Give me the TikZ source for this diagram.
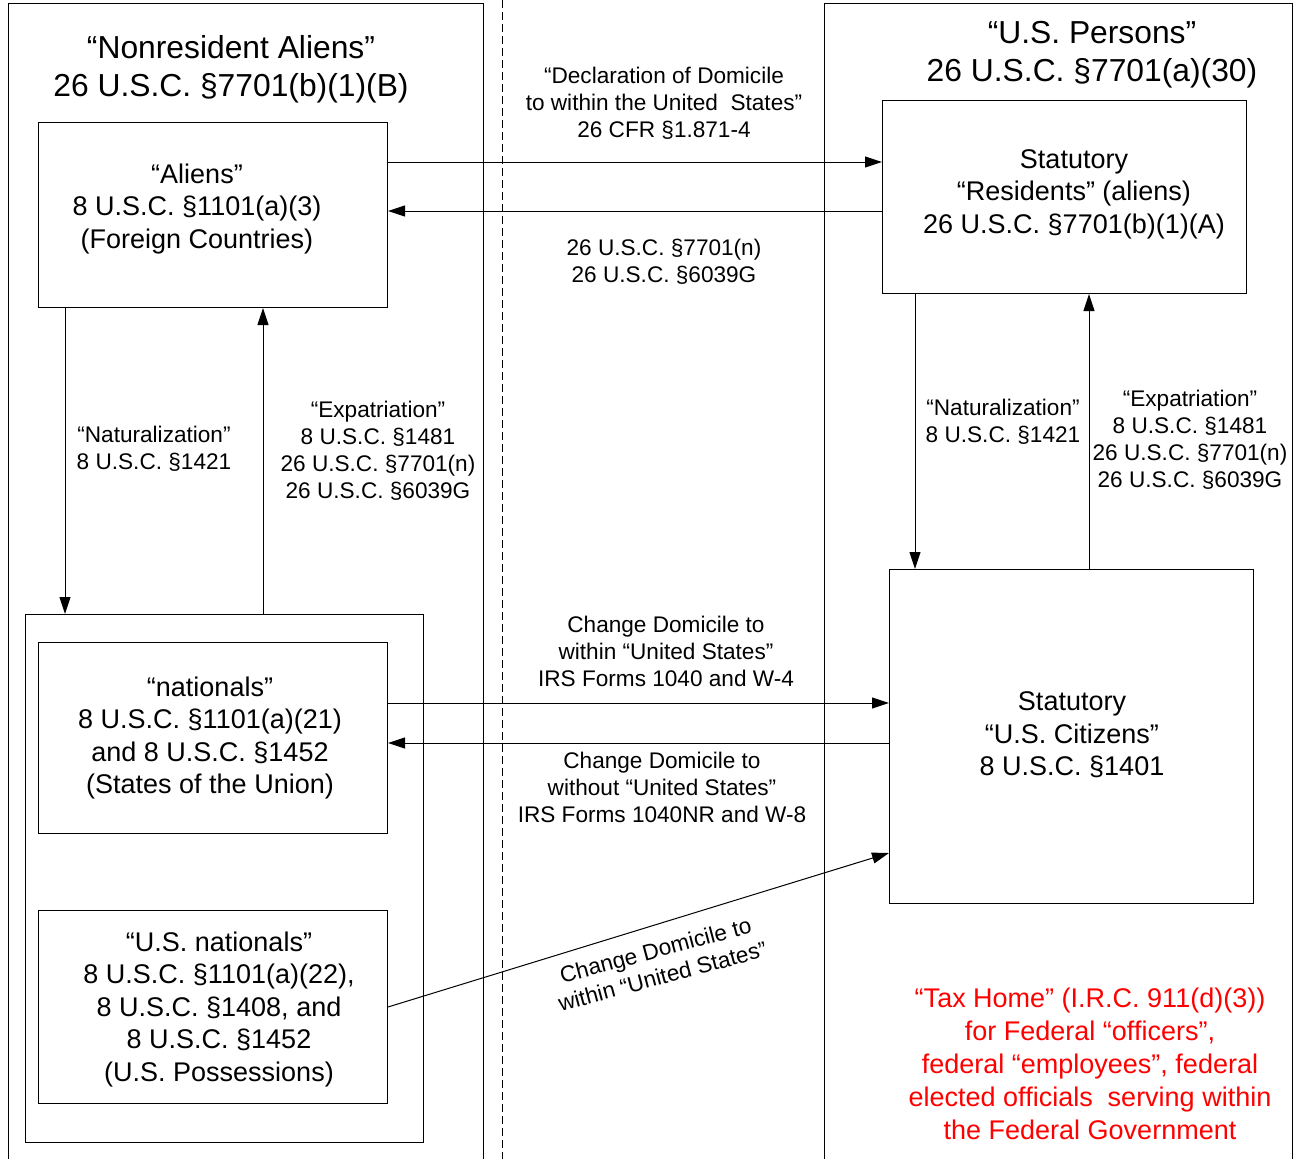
\documentclass[tikz,border=0pt]{standalone}
\usepackage{fontspec}
\setmainfont{Liberation Sans}
\usetikzlibrary{arrows.meta}
\begin{document}
\begin{tikzpicture}[x=1pt,y=-1pt,
  box/.style={draw, line width=1pt, inner sep=0pt, anchor=north west},
  titletext/.style={align=center, inner sep=0pt, font=\fontsize{31.8}{38}\selectfont},
  btext/.style={align=center, inner sep=0pt, font=\fontsize{27}{32.5}\selectfont},
  lbl/.style={align=center, inner sep=0pt, font=\fontsize{22.6}{27}\selectfont},
  redtext/.style={align=center, inner sep=0pt, text=red, font=\fontsize{27}{33}\selectfont},
  arr/.style={line width=1pt, -{Triangle[length=17pt,width=11pt]}},
  dashline/.style={line width=1pt, dash pattern=on 8pt off 4pt}]
\path[use as bounding box, fill=white] (0,0) rectangle (1296,1159);
\clip (0,0) rectangle (1296,1159);

% outer regions
\node[box, minimum width=475pt, minimum height=1200pt] (nra) at (8,3) {};
\node[box, minimum width=468pt, minimum height=1200pt] (usp) at (824,3) {};
\coordinate (dtop) at (502,0);
\coordinate (dbot) at (502,1159);
\draw[dashline] (dtop) -- (dbot);

% boxes
\node[box, minimum width=349pt, minimum height=185pt] (aliens) at (38,122) {};
\node[box, minimum width=364pt, minimum height=193pt] (res) at (882,100) {};
\node[box, minimum width=398pt, minimum height=528pt] (natout) at (25,614) {};
\node[box, minimum width=349pt, minimum height=191pt] (nat) at (38,642) {};
\node[box, minimum width=349pt, minimum height=193pt] (usnat) at (38,910) {};
\node[box, minimum width=364pt, minimum height=334pt] (cit) at (889,569) {};

% titles and box texts
\node[titletext] (nratitle) at (231,69) {“Nonresident Aliens”\\26 U.S.C. §7701(b)(1)(B)};
\node[titletext] (ustitle) at (1092,55) {“U.S. Persons”\\26 U.S.C. §7701(a)(30)};
\node[btext] (aliensT) at (197,209) {“Aliens”\\8 U.S.C. §1101(a)(3)\\(Foreign Countries)};
\node[btext] (resT) at (1074,194) {Statutory\\“Residents” (aliens)\\26 U.S.C. §7701(b)(1)(A)};
\node[btext] (natT) at (210,738) {“nationals”\\8 U.S.C. §1101(a)(21)\\and 8 U.S.C. §1452\\(States of the Union)};
\node[btext] (usnatT) at (219,1009) {“U.S. nationals”\\8 U.S.C. §1101(a)(22),\\8 U.S.C. §1408, and\\8 U.S.C. §1452\\(U.S. Possessions)};
\node[btext] (citT) at (1072,735) {Statutory\\“U.S. Citizens”\\8 U.S.C. §1401};
\node[redtext] (taxhome) at (1090,1064) {“Tax Home” (I.R.C. 911(d)(3))\\for Federal “officers”,\\federal “employees”, federal\\elected officials\ \ serving within\\the Federal Government};

% connector labels
\node[lbl] (declL) at (664,103) {“Declaration of Domicile\\to within the United\ \ States”\\26 CFR §1.871-4};
\node[lbl] (nL) at (664,262) {26 U.S.C. §7701(n)\\26 U.S.C. §6039G};
\node[lbl] (natzL) at (154,449) {“Naturalization”\\8 U.S.C. §1421};
\node[lbl] (expL) at (378,451) {“Expatriation”\\8 U.S.C. §1481\\26 U.S.C. §7701(n)\\26 U.S.C. §6039G};
\node[lbl] (natzR) at (1003,422) {“Naturalization”\\8 U.S.C. §1421};
\node[lbl] (expR) at (1190,440) {“Expatriation”\\8 U.S.C. §1481\\26 U.S.C. §7701(n)\\26 U.S.C. §6039G};
\node[lbl] (cdw) at (666,651) {Change Domicile to\\within “United States”\\IRS Forms 1040 and W-4};
\node[lbl] (cdo) at (662,787) {Change Domicile to\\without “United States”\\IRS Forms 1040NR and W-8};
\node[lbl, rotate=15] (cdr) at (659,963) {Change Domicile to\\within “United States”};

% connectors
\draw[arr] (aliens.east |- 0,162) -- (res.west |- 0,162);
\draw[arr] (res.west |- 0,211) -- (aliens.east |- 0,211);
\draw[arr] (aliens.south -| 65,0) -- (natout.north -| 65,0);
\draw[arr] (natout.north -| 263,0) -- (aliens.south -| 263,0);
\draw[arr] (res.south -| 915,0) -- (cit.north -| 915,0);
\draw[arr] (cit.north -| 1089,0) -- (res.south -| 1089,0);
\draw[arr] (nat.east |- 0,703) -- (cit.west |- 0,703);
\draw[arr] (cit.west |- 0,743) -- (nat.east |- 0,743);
\draw[arr] (usnat.east |- 0,1007) -- (cit.west |- 0,853);
\end{tikzpicture}
\end{document}
